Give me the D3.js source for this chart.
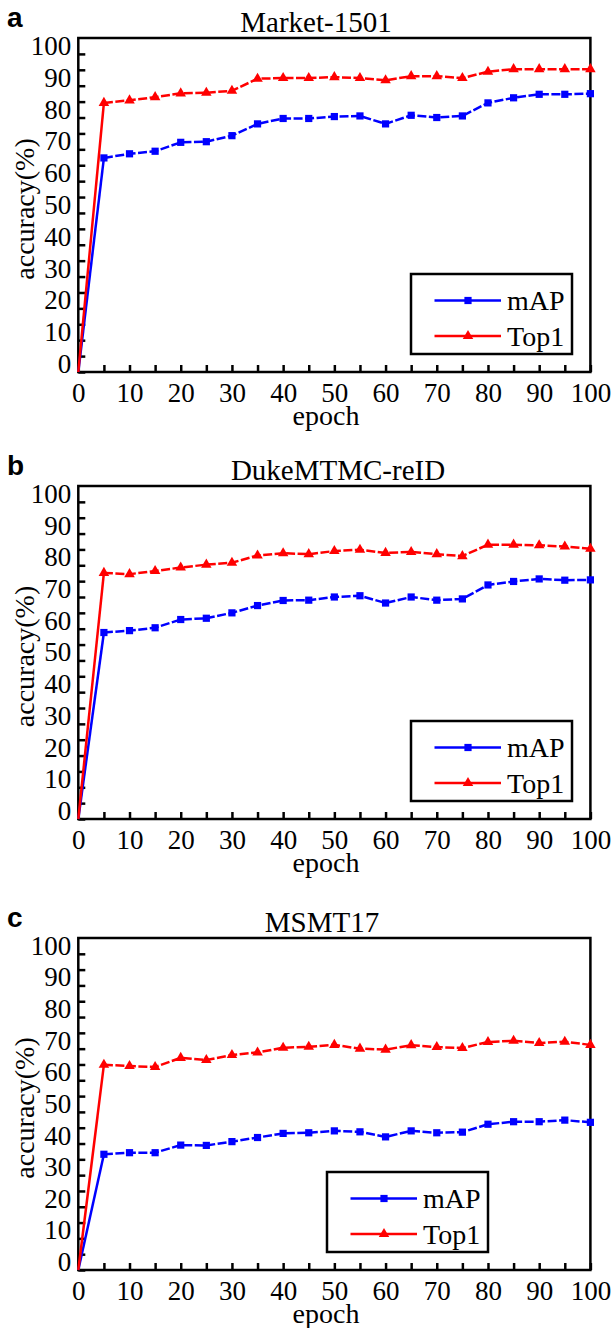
<!DOCTYPE html>
<html>
<head>
<meta charset="utf-8">
<script src="https://cdn.jsdelivr.net/npm/d3@7"></script>
<style>
  body { margin: 0; background: #fff; }
  text { font-family: "Liberation Serif", "Times New Roman", serif; fill: #000; }
</style>
</head>
<body>
<script>
// values
let epochs = [0, 5, 10, 15, 20, 25, 30, 35, 40, 45, 50, 55, 60, 65, 70, 75, 80, 85, 90, 95, 100];

let market_map  = [0, 67.3, 68.6, 69.4, 72.2, 72.4, 74.3, 78.0, 79.7, 79.7, 80.3, 80.5, 78.0, 80.7, 80.0, 80.5, 84.6, 86.2, 87.3, 87.3, 87.5];
let market_top1 = [0, 84.6, 85.4, 86.4, 87.6, 87.8, 88.4, 92.2, 92.4, 92.4, 92.7, 92.4, 91.7, 93.0, 93.0, 92.4, 94.4, 95.2, 95.2, 95.2, 95.2];

let duke_map  = [0, 58.8, 59.4, 60.3, 62.9, 63.3, 65.0, 67.3, 68.9, 69.0, 70.0, 70.4, 68.1, 70.0, 69.0, 69.4, 73.8, 74.9, 75.7, 75.3, 75.4];
let duke_top1 = [0, 77.6, 77.2, 78.2, 79.3, 80.2, 80.8, 83.1, 83.8, 83.5, 84.5, 84.9, 83.9, 84.2, 83.5, 82.9, 86.5, 86.5, 86.3, 85.9, 85.2];

let msmt_map  = [0, 36.6, 37.1, 37.1, 39.5, 39.4, 40.6, 41.9, 43.2, 43.4, 44.0, 43.7, 42.1, 44.0, 43.4, 43.6, 46.1, 46.9, 46.9, 47.4, 46.7];
let msmt_top1 = [0, 64.9, 64.5, 64.2, 67.1, 66.4, 68.0, 68.8, 70.3, 70.6, 71.2, 70.0, 69.7, 71.1, 70.5, 70.2, 72.1, 72.5, 71.8, 72.2, 71.2];

let titles = ["Market-1501", "DukeMTMC-reID", "MSMT17"];
let letters = ["a", "b", "c"];
let series_names = ["mAP", "Top1"];

let yTicks = d3.range(0, 101, 5);
let xTicks = d3.range(0, 101, 5);

// layout
let W = 614, H = 1328;
let left = 78.3, right = 590.4;
let serif = "'Liberation Serif', 'Times New Roman', serif";
let panels = [
    { top: 38,  bottom: 372,  titleX: 316, legendX: 411, map: market_map, top1: market_top1 },
    { top: 486, bottom: 819,  titleX: 338, legendX: 411, map: duke_map,   top1: duke_top1 },
    { top: 938, bottom: 1270, titleX: 322, legendX: 327, map: msmt_map,   top1: msmt_top1 }
];
let legendW = 161, legendH = 80, legendGap = 18;
let blue = "#0000ff", red = "#ff0000";

let svg = d3.select("body").append("svg")
    .attr("width", W)
    .attr("height", H);

let x = d3.scaleLinear().domain([0, 100]).range([left, right]);

panels.forEach(function (p, i) {
    let y = d3.scaleLinear().domain([0, 105]).range([p.bottom, p.top]);
    let g = svg.append("g");

    // panel letter
    g.append("text")
        .attr("x", 7)
        .attr("y", p.top - 11)
        .style("font-family", "'Liberation Sans', Arial, sans-serif")
        .style("font-weight", "bold")
        .style("font-size", "28px")
        .text(letters[i]);

    // title
    g.append("text")
        .attr("x", p.titleX)
        .attr("y", p.top - 6)
        .attr("text-anchor", "middle")
        .style("font-family", serif)
        .style("font-size", "29px")
        .text(titles[i]);

    // axes, ticks pointing inward, labels every 10
    let yAxis = d3.axisLeft(y)
        .tickValues(yTicks)
        .tickSize(-7)
        .tickSizeOuter(0)
        .tickPadding(7)
        .tickFormat(function (d) { return d % 10 === 0 ? d : ""; });
    let gy = g.append("g")
        .attr("transform", "translate(" + left + ",0)")
        .call(yAxis);
    gy.selectAll("text")
        .attr("dy", "0.02em")
        .style("font-family", serif)
        .style("font-size", "27px");

    let xAxis = d3.axisBottom(x)
        .tickValues(xTicks)
        .tickSize(-7)
        .tickSizeOuter(0)
        .tickPadding(10.5)
        .tickFormat(function (d) { return d % 10 === 0 ? d : ""; });
    let gx = g.append("g")
        .attr("transform", "translate(0," + p.bottom + ")")
        .call(xAxis);
    gx.selectAll("text")
        .style("font-family", serif)
        .style("font-size", "27px");

    g.selectAll(".tick line").attr("stroke", "#000").attr("stroke-width", 2.5);
    g.selectAll(".domain").attr("stroke", "none");

    // frame
    g.append("rect")
        .attr("x", left)
        .attr("y", p.top)
        .attr("width", right - left)
        .attr("height", p.bottom - p.top)
        .attr("fill", "none")
        .attr("stroke", "#000")
        .attr("stroke-width", 2.5);

    // axis titles
    g.append("text")
        .attr("x", 326)
        .attr("y", p.bottom + 53)
        .attr("text-anchor", "middle")
        .style("font-family", serif)
        .style("font-size", "28px")
        .text("epoch");

    g.append("text")
        .attr("transform", "translate(34," + ((p.top + p.bottom) / 2 + 4) + ") rotate(-90)")
        .attr("text-anchor", "middle")
        .style("font-family", serif)
        .style("font-size", "28px")
        .text("accuracy(%)");

    // series
    let line = d3.line()
        .x(function (d) { return x(d[0]); })
        .y(function (d) { return y(d[1]); });

    let defs = [
        { vals: p.map,  color: blue, sym: d3.symbolSquare,   size: 52 },
        { vals: p.top1, color: red,  sym: d3.symbolTriangle, size: 48 }
    ];

    defs.forEach(function (s) {
        let pts = epochs.map(function (e, k) { return [e, s.vals[k]]; });
        g.append("path")
            .attr("d", line(pts.slice(0, 2)))
            .attr("fill", "none")
            .attr("stroke", s.color)
            .attr("stroke-width", 2.5);
        g.append("path")
            .attr("d", line(pts.slice(1)))
            .attr("fill", "none")
            .attr("stroke", s.color)
            .attr("stroke-width", 2.5)
            .attr("stroke-dasharray", "9,2.5");
        g.selectAll(null)
            .data(pts.slice(1))
            .enter().append("path")
            .attr("transform", function (d) { return "translate(" + x(d[0]) + "," + y(d[1]) + ")"; })
            .attr("d", d3.symbol().type(s.sym).size(s.size))
            .attr("fill", s.color);
    });

    // legend
    let ly = p.bottom - legendGap - legendH;
    let lg = g.append("g").attr("transform", "translate(" + p.legendX + "," + ly + ")");
    lg.append("rect")
        .attr("width", legendW)
        .attr("height", legendH)
        .attr("fill", "#fff")
        .attr("stroke", "#000")
        .attr("stroke-width", 2.5);
    defs.forEach(function (s, k) {
        let ry = 26.5 + k * 35.5;
        lg.append("line")
            .attr("x1", 23.5).attr("x2", 90)
            .attr("y1", ry).attr("y2", ry)
            .attr("stroke", s.color)
            .attr("stroke-width", 2.5);
        lg.append("path")
            .attr("transform", "translate(57," + ry + ")")
            .attr("d", d3.symbol().type(s.sym).size(s.size))
            .attr("fill", s.color);
        lg.append("text")
            .attr("x", 96)
            .attr("y", ry + 9.5)
            .style("font-family", serif)
            .style("font-size", "28px")
            .text(series_names[k]);
    });
});
</script>
</body>
</html>
